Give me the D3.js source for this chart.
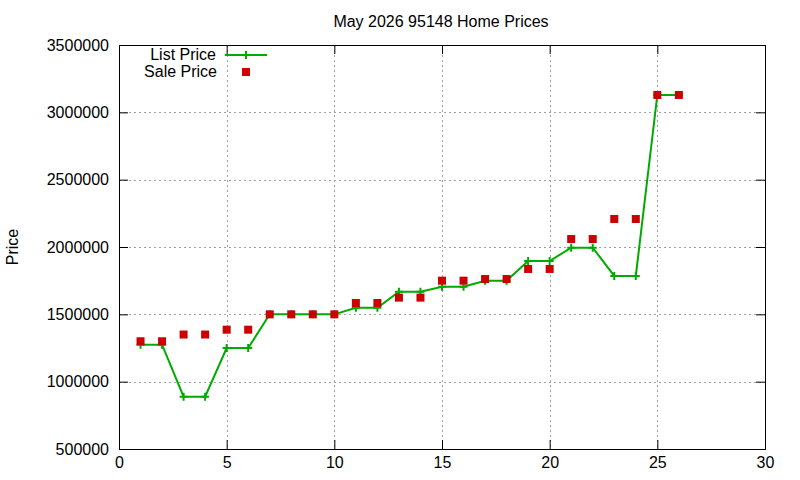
<!DOCTYPE html>
<html>
<head>
<meta charset="utf-8">
<script src="https://cdn.jsdelivr.net/npm/d3@7"></script>
<style>
  body { margin: 0; background: #fff; }
  text { font-family: "Liberation Sans", Arial, sans-serif; fill: #000; }
</style>
</head>
<body>
<div class="chart"></div>
<script>
const w = 800;
const h = 480;

// data
const days = [1, 2, 3, 4, 5, 6, 7, 8, 9, 10, 11, 12, 13, 14, 15, 16, 17, 18, 19, 20, 21, 22, 23, 24, 25, 26];
const listPrice = [1275000, 1275000, 888000, 888000, 1250000, 1250000, 1500000, 1500000, 1500000, 1500000,
  1549000, 1549000, 1668000, 1668000, 1705000, 1705000, 1750000, 1750000, 1896000, 1896000,
  1995000, 1995000, 1785000, 1785000, 3129000, 3129000];
const salePrice = [1300000, 1300000, 1350000, 1350000, 1386000, 1386000, 1500000, 1500000, 1500000, 1500000,
  1584000, 1584000, 1624000, 1624000, 1750000, 1750000, 1762000, 1762000, 1837000, 1837000,
  2059000, 2059000, 2208000, 2208000, 3129000, 3129000];
const xTicks = [0, 5, 10, 15, 20, 25, 30];
const yTicks = [500000, 1000000, 1500000, 2000000, 2500000, 3000000, 3500000];

const pLeft = 119, pRight = 765, pTop = 45, pBottom = 449;

const svg = d3.select('.chart').append('svg').attr('width', w).attr('height', h);

const xScale = d3.scaleLinear().domain([0, 30]).range([pLeft, pRight]);
const yScale = d3.scaleLinear().domain([500000, 3500000]).range([pBottom, pTop]);

// grid
const grid = svg.append('g').attr('stroke', '#a0a0a0').attr('stroke-dasharray', '2,3').attr('stroke-width', 1);
grid.selectAll('.gx').data(xTicks.slice(1, -1)).enter().append('line')
  .attr('x1', (d) => Math.round(xScale(d)) + 0.5).attr('x2', (d) => Math.round(xScale(d)) + 0.5)
  .attr('y1', pTop).attr('y2', pBottom);
grid.selectAll('.gy').data(yTicks.slice(1, -1)).enter().append('line')
  .attr('y1', (d) => Math.round(yScale(d)) + 0.5).attr('y2', (d) => Math.round(yScale(d)) + 0.5)
  .attr('x1', pLeft).attr('x2', pRight);

// axes (gnuplot style: inward ticks, mirrored)
const fontSize = 16;
const xAxis = d3.axisBottom(xScale).tickValues(xTicks).tickSizeInner(-9).tickSizeOuter(0).tickPadding(8);
const gx = svg.append('g').attr('transform', `translate(0,${pBottom})`).call(xAxis);
const yAxis = d3.axisLeft(yScale).tickValues(yTicks).tickFormat(d3.format('d'))
  .tickSizeInner(-9).tickSizeOuter(0).tickPadding(10);
const gy = svg.append('g').attr('transform', `translate(${pLeft},0)`).call(yAxis);
const gx2 = svg.append('g').attr('transform', `translate(0,${pTop})`)
  .call(d3.axisTop(xScale).tickValues(xTicks).tickSizeInner(-9).tickSizeOuter(0).tickFormat(''));
const gy2 = svg.append('g').attr('transform', `translate(${pRight},0)`)
  .call(d3.axisRight(yScale).tickValues(yTicks).tickSizeInner(-9).tickSizeOuter(0).tickFormat(''));
[gx, gy, gx2, gy2].forEach((g) => {
  g.select('.domain').remove();
  g.selectAll('line').attr('stroke', '#000');
  g.selectAll('text').attr('font-size', fontSize).attr('font-family', '"Liberation Sans", Arial, sans-serif');
});
svg.append('rect').attr('x', pLeft + 0.5).attr('y', pTop + 0.5)
  .attr('width', pRight - pLeft).attr('height', pBottom - pTop)
  .attr('fill', 'none').attr('stroke', '#000').attr('stroke-width', 1);

// title and y label
svg.append('text').attr('x', 441).attr('y', 27).attr('text-anchor', 'middle')
  .attr('font-size', fontSize).text('May 2026 95148 Home Prices');
svg.append('text').attr('transform', 'translate(18,247) rotate(-90)').attr('text-anchor', 'middle')
  .attr('font-size', fontSize).text('Price');

// list price line
const line = d3.line().x((d, i) => xScale(days[i])).y((d) => yScale(d));
svg.append('path').datum(listPrice).attr('d', line)
  .attr('fill', 'none').attr('stroke', '#00aa00').attr('stroke-width', 2);
const plus = (x, y) => `M${x - 4},${y}H${x + 4}M${x},${y - 4}V${y + 4}`;
svg.append('g').selectAll('path').data(listPrice).enter().append('path')
  .attr('d', (d, i) => plus(xScale(days[i]), yScale(d)))
  .attr('stroke', '#00aa00').attr('stroke-width', 2);

// sale price points
svg.append('g').selectAll('rect').data(salePrice).enter().append('rect')
  .attr('x', (d, i) => xScale(days[i]) - 4).attr('y', (d) => yScale(d) - 4)
  .attr('width', 8).attr('height', 8).attr('fill', '#cc0000');

// legend
svg.append('text').attr('x', 216).attr('y', 60).attr('text-anchor', 'end')
  .attr('font-size', fontSize).text('List Price');
svg.append('path').attr('d', 'M225,55H267').attr('stroke', '#00aa00').attr('stroke-width', 2);
svg.append('path').attr('d', plus(246, 55)).attr('stroke', '#00aa00').attr('stroke-width', 2);
svg.append('text').attr('x', 217).attr('y', 77).attr('text-anchor', 'end')
  .attr('font-size', fontSize).text('Sale Price');
svg.append('rect').attr('x', 242).attr('y', 68).attr('width', 8).attr('height', 8).attr('fill', '#cc0000');
</script>
</body>
</html>
